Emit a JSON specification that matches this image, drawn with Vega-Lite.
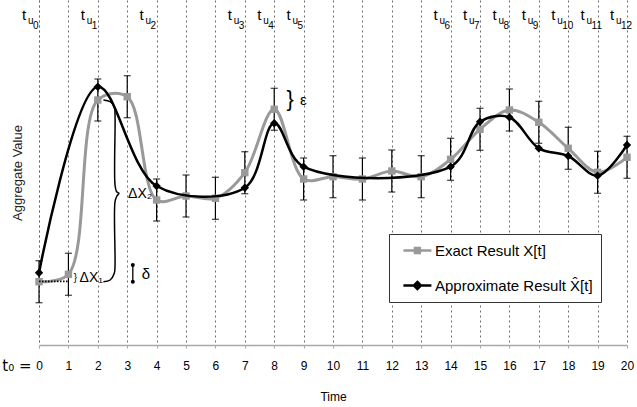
{
  "$schema": "https://vega.github.io/schema/vega-lite/v6.json",
  "autosize": {"type": "none"},
  "padding": {"left": 39, "top": 0, "right": 10, "bottom": 62},
  "width": 588,
  "height": 345,
  "config": {
    "font": "Liberation Sans",
    "view": {"stroke": null},
    "text": {"color": "black"}
  },
  "datasets": {
    "exact": [
      {"t": 0, "v": 63.3, "lo": 42.3, "hi": 84.3, "s": "Exact Result X[t]"},
      {"t": 1, "v": 70.7, "lo": 49.7, "hi": 91.7, "s": "Exact Result X[t]"},
      {"t": 2, "v": 245, "lo": 224, "hi": 266, "s": "Exact Result X[t]"},
      {"t": 3, "v": 248.3, "lo": 227.3, "hi": 269.3, "s": "Exact Result X[t]"},
      {"t": 4, "v": 145, "lo": 124, "hi": 166, "s": "Exact Result X[t]"},
      {"t": 5, "v": 149, "lo": 128, "hi": 170, "s": "Exact Result X[t]"},
      {"t": 6, "v": 146.7, "lo": 125.7, "hi": 167.7, "s": "Exact Result X[t]"},
      {"t": 7, "v": 172.3, "lo": 151.3, "hi": 193.3, "s": "Exact Result X[t]"},
      {"t": 8, "v": 235.7, "lo": 214.7, "hi": 256.7, "s": "Exact Result X[t]"},
      {"t": 9, "v": 166, "lo": 145, "hi": 187, "s": "Exact Result X[t]"},
      {"t": 10, "v": 168.3, "lo": 147.3, "hi": 189.3, "s": "Exact Result X[t]"},
      {"t": 11, "v": 166, "lo": 145, "hi": 187, "s": "Exact Result X[t]"},
      {"t": 12, "v": 174, "lo": 153, "hi": 195, "s": "Exact Result X[t]"},
      {"t": 13, "v": 168.3, "lo": 147.3, "hi": 189.3, "s": "Exact Result X[t]"},
      {"t": 14, "v": 185.7, "lo": 164.7, "hi": 206.7, "s": "Exact Result X[t]"},
      {"t": 15, "v": 215.7, "lo": 194.7, "hi": 236.7, "s": "Exact Result X[t]"},
      {"t": 16, "v": 235, "lo": 214, "hi": 256, "s": "Exact Result X[t]"},
      {"t": 17, "v": 222.7, "lo": 201.7, "hi": 243.7, "s": "Exact Result X[t]"},
      {"t": 18, "v": 196.7, "lo": 175.7, "hi": 217.7, "s": "Exact Result X[t]"},
      {"t": 19, "v": 172.7, "lo": 151.7, "hi": 193.7, "s": "Exact Result X[t]"},
      {"t": 20, "v": 187.7, "lo": 166.7, "hi": 208.7, "s": "Exact Result X[t]"}
    ],
    "approx": [
      {"t": 0, "v": 72.3, "s": "Approximate Result X\u0302[t]"},
      {"t": 2, "v": 258.3, "s": "Approximate Result X\u0302[t]"},
      {"t": 4, "v": 159, "s": "Approximate Result X\u0302[t]"},
      {"t": 7, "v": 157.3, "s": "Approximate Result X\u0302[t]"},
      {"t": 8, "v": 221.7, "s": "Approximate Result X\u0302[t]"},
      {"t": 9, "v": 178.3, "s": "Approximate Result X\u0302[t]"},
      {"t": 14, "v": 178.3, "s": "Approximate Result X\u0302[t]"},
      {"t": 15, "v": 223.3, "s": "Approximate Result X\u0302[t]"},
      {"t": 16, "v": 227.7, "s": "Approximate Result X\u0302[t]"},
      {"t": 17, "v": 196.7, "s": "Approximate Result X\u0302[t]"},
      {"t": 18, "v": 189, "s": "Approximate Result X\u0302[t]"},
      {"t": 19, "v": 169.3, "s": "Approximate Result X\u0302[t]"},
      {"t": 20, "v": 200, "s": "Approximate Result X\u0302[t]"}
    ],
    "updates": [
      {"t": 0, "k": "0"}, {"t": 2, "k": "1"}, {"t": 4, "k": "2"},
      {"t": 7, "k": "3"}, {"t": 8, "k": "4"}, {"t": 9, "k": "5"},
      {"t": 14, "k": "6"}, {"t": 15, "k": "7"}, {"t": 16, "k": "8"},
      {"t": 17, "k": "9"}, {"t": 18, "k": "10"}, {"t": 19, "k": "11"},
      {"t": 20, "k": "12"}
    ],
    "brace": [
      {"i": 0, "t": 2.19, "v": 245},
      {"i": 1, "t": 2.42, "v": 243.3},
      {"i": 2, "t": 2.56, "v": 238.3},
      {"i": 3, "t": 2.585, "v": 230},
      {"i": 4, "t": 2.585, "v": 160},
      {"i": 5, "t": 2.64, "v": 153.3},
      {"i": 6, "t": 2.72, "v": 151.7},
      {"i": 7, "t": 2.65, "v": 149},
      {"i": 8, "t": 2.585, "v": 143.3},
      {"i": 9, "t": 2.585, "v": 80},
      {"i": 10, "t": 2.56, "v": 71.7},
      {"i": 11, "t": 2.42, "v": 65},
      {"i": 12, "t": 2.19, "v": 63.3}
    ]
  },
  "encoding": {
    "x": {
      "field": "t",
      "type": "quantitative",
      "scale": {"domain": [-0.001, 20], "nice": false, "zero": false},
      "axis": {
        "values": [-0.001, 0, 1, 2, 3, 4, 5, 6, 7, 8, 9, 10, 11, 12, 13, 14, 15, 16, 17, 18, 19, 20],
        "grid": true,
        "gridDash": [2, 3],
        "gridColor": "#6e6e6e",
        "gridWidth": 1,
        "domainColor": "#a8a8a8",
        "domainWidth": 1.5,
        "tickColor": "#a8a8a8",
        "tickSize": 3,
        "labelOverlap": false,
        "labelExpr": "datum.value < 0 ? 't\u2080 =' : datum.label",
        "labelAlign": {"condition": {"test": "datum.value < 0", "value": "right"}, "value": "center"},
        "labelFontSize": {"condition": {"test": "datum.value < 0", "value": 15}, "value": 12},
        "labelFont": {"condition": {"test": "datum.value < 0", "value": "DejaVu Sans"}, "value": "Liberation Sans"},
        "labelOffset": {"condition": {"test": "datum.value < 0", "value": -8}, "value": 0},
        "labelBaseline": "middle",
        "labelPadding": 17,
        "labelColor": "black",
        "titleFontSize": 12,
        "titleFontWeight": "normal",
        "titleColor": "black",
        "titlePadding": 18
      },
      "title": "Time"
    }
  },
  "layer": [
    {
      "data": {"name": "exact"},
      "mark": {"type": "line", "interpolate": "catmull-rom", "strokeWidth": 3},
      "encoding": {
        "y": {
          "field": "v",
          "type": "quantitative",
          "title": "Aggregate Value",
          "scale": {"domain": [0, 345], "nice": false, "zero": false},
          "axis": {
            "domain": false,
            "ticks": false,
            "labels": false,
            "grid": false,
            "titleFontSize": 13,
            "titleFontWeight": "normal",
            "titleColor": "#222",
            "titlePadding": 15
          }
        },
        "color": {
          "field": "s",
          "type": "nominal",
          "scale": {
            "domain": ["Exact Result X[t]", "Approximate Result X\u0302[t]"],
            "range": ["#999999", "#000000"]
          },
          "legend": {
            "title": null,
            "orient": "none",
            "legendX": 350,
            "legendY": 234,
            "padding": 8,
            "strokeColor": "#333",
            "fillColor": "white",
            "labelFontSize": 15,
            "labelColor": "black",
            "labelLimit": 300,
            "labelOffset": 21,
            "symbolSize": 196,
            "rowPadding": 18,
            "symbolStrokeWidth": 2.5,
            "encode": {
              "symbols": {
                "update": {
                  "shape": {"signal": "datum.value === 'Exact Result X[t]' ? 'M-0.3,0H3.7M1.35,-0.35H2.05V0.35H1.35Z' : 'M-0.3,0H3.7M1.7,-0.5L2.2,0L1.7,0.5L1.2,0Z'"},
                  "fill": {"signal": "datum.value === 'Exact Result X[t]' ? '#999999' : '#000000'"},
                  "stroke": {"signal": "datum.value === 'Exact Result X[t]' ? '#999999' : '#000000'"},
                  "strokeWidth": {"value": 2.5},
                  "opacity": {"value": 1}
                }
              }
            }
          }
        }
      }
    },
    {
      "data": {"name": "exact"},
      "mark": {"type": "rule", "color": "black", "strokeWidth": 1.2},
      "encoding": {
        "y": {"field": "lo", "type": "quantitative", "title": "Aggregate Value"},
        "y2": {"field": "hi"}
      }
    },
    {
      "data": {"name": "exact"},
      "mark": {"type": "tick", "orient": "horizontal", "size": 7, "thickness": 1.3, "color": "black"},
      "encoding": {
        "y": {"field": "lo", "type": "quantitative", "title": "Aggregate Value"}
      }
    },
    {
      "data": {"name": "exact"},
      "mark": {"type": "tick", "orient": "horizontal", "size": 7, "thickness": 1.3, "color": "black"},
      "encoding": {
        "y": {"field": "hi", "type": "quantitative", "title": "Aggregate Value"}
      }
    },
    {
      "data": {"name": "exact"},
      "mark": {"type": "point", "shape": "square", "filled": true, "color": "#999999", "size": 55, "opacity": 1},
      "encoding": {
        "y": {"field": "v", "type": "quantitative", "title": "Aggregate Value"}
      }
    },
    {
      "data": {"name": "approx"},
      "mark": {"type": "line", "interpolate": "catmull-rom", "strokeWidth": 2.5},
      "encoding": {
        "y": {"field": "v", "type": "quantitative", "title": "Aggregate Value"},
        "color": {"field": "s", "type": "nominal", "legend": null}
      }
    },
    {
      "data": {"name": "approx"},
      "mark": {"type": "point", "shape": "diamond", "filled": true, "color": "black", "size": 70, "opacity": 1},
      "encoding": {
        "y": {"field": "v", "type": "quantitative", "title": "Aggregate Value"}
      }
    },
    {
      "data": {"name": "updates"},
      "mark": {"type": "text", "text": "t", "fontSize": 15, "align": "left", "baseline": "alphabetic", "dx": -17},
      "encoding": {
        "y": {"datum": 325, "type": "quantitative", "title": "Aggregate Value"}
      }
    },
    {
      "data": {"name": "updates"},
      "mark": {"type": "text", "text": "u", "fontSize": 10, "align": "left", "baseline": "alphabetic", "dx": -11, "dy": 4},
      "encoding": {
        "y": {"datum": 325, "type": "quantitative", "title": "Aggregate Value"}
      }
    },
    {
      "data": {"name": "updates"},
      "mark": {"type": "text", "fontSize": 10, "align": "left", "baseline": "alphabetic", "dx": -6, "dy": 9},
      "encoding": {
        "y": {"datum": 325, "type": "quantitative", "title": "Aggregate Value"},
        "text": {"field": "k"}
      }
    },
    {
      "data": {"values": [{"t": 0, "v": 63.6}, {"t": 1, "v": 63.6}]},
      "mark": {"type": "line", "color": "black", "strokeWidth": 1.6, "strokeDash": [1.5, 1.5]},
      "encoding": {
        "y": {"field": "v", "type": "quantitative", "title": "Aggregate Value"}
      }
    },
    {
      "data": {"name": "brace"},
      "mark": {"type": "line", "interpolate": "catmull-rom", "color": "black", "strokeWidth": 1.5},
      "encoding": {
        "y": {"field": "v", "type": "quantitative", "title": "Aggregate Value"},
        "order": {"field": "i"}
      }
    },
    {
      "data": {"values": [{"t": 1.24, "v": 67.5, "txt": "}"}]},
      "mark": {"type": "text", "fontSize": 10, "align": "center", "baseline": "middle"},
      "encoding": {
        "y": {"field": "v", "type": "quantitative", "title": "Aggregate Value"},
        "text": {"field": "txt"}
      }
    },
    {
      "data": {"values": [{"t": 1.38, "v": 63, "txt": "\u0394X\u2081"}]},
      "mark": {"type": "text", "fontSize": 14, "align": "left", "baseline": "alphabetic"},
      "encoding": {
        "y": {"field": "v", "type": "quantitative", "title": "Aggregate Value"},
        "text": {"field": "txt"}
      }
    },
    {
      "data": {"values": [{"t": 3.03, "v": 147, "txt": "\u0394X\u2082"}]},
      "mark": {"type": "text", "fontSize": 14, "align": "left", "baseline": "alphabetic"},
      "encoding": {
        "y": {"field": "v", "type": "quantitative", "title": "Aggregate Value"},
        "text": {"field": "txt"}
      }
    },
    {
      "data": {"values": [{"t": 3.19, "lo": 63.3, "hi": 80}]},
      "mark": {"type": "rule", "color": "black", "strokeWidth": 1.3},
      "encoding": {
        "y": {"field": "lo", "type": "quantitative", "title": "Aggregate Value"},
        "y2": {"field": "hi"}
      }
    },
    {
      "data": {"values": [{"t": 3.19, "v": 63.3}, {"t": 3.19, "v": 80}]},
      "mark": {"type": "point", "shape": "circle", "filled": true, "color": "black", "size": 16, "opacity": 1},
      "encoding": {
        "y": {"field": "v", "type": "quantitative", "title": "Aggregate Value"}
      }
    },
    {
      "data": {"values": [{"t": 3.49, "v": 71.5, "txt": "\u03b4"}]},
      "mark": {"type": "text", "fontSize": 15, "align": "left", "baseline": "middle"},
      "encoding": {
        "y": {"field": "v", "type": "quantitative", "title": "Aggregate Value"},
        "text": {"field": "txt"}
      }
    },
    {
      "data": {"values": [{"t": 8.54, "v": 246, "txt": "}"}]},
      "mark": {"type": "text", "fontSize": 22, "align": "center", "baseline": "middle"},
      "encoding": {
        "y": {"field": "v", "type": "quantitative", "title": "Aggregate Value"},
        "text": {"field": "txt"}
      }
    },
    {
      "data": {"values": [{"t": 8.88, "v": 245, "txt": "\u03b5"}]},
      "mark": {"type": "text", "fontSize": 15, "align": "left", "baseline": "middle"},
      "encoding": {
        "y": {"field": "v", "type": "quantitative", "title": "Aggregate Value"},
        "text": {"field": "txt"}
      }
    }
  ]
}
